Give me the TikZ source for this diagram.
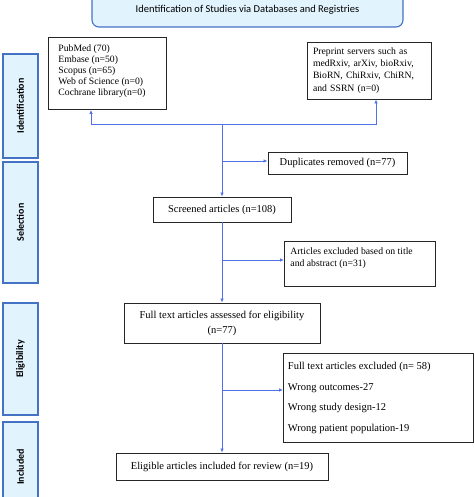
\documentclass[tikz,border=0pt]{standalone}
\usepackage{fontspec}
\setmainfont{Liberation Serif}
\newfontfamily\labelfont{Carlito}
\usetikzlibrary{arrows.meta}
\definecolor{flow}{HTML}{4F72E8}
\definecolor{phaseborder}{HTML}{4472C4}
\definecolor{phasefill}{HTML}{E1F3FC}
\tikzset{
  box/.style={draw=black!85, line width=0.9pt, inner sep=0pt, font=\fontsize{10.5}{13}\selectfont},
  smallbox/.style={box, font=\fontsize{9.7}{11}\selectfont},
  phase/.style={draw=phaseborder, fill=phasefill, line width=1.1pt, minimum width=35pt, inner sep=0pt},
  phasetext/.style={rotate=90, font=\labelfont\bfseries\fontsize{10}{12}\selectfont},
  flowline/.style={draw=flow, line width=1pt},
  arr/.style={flowline, -{Latex[length=4pt,width=3.5pt]}},
}
\begin{document}
\begin{tikzpicture}[x=1pt,y=-1pt]
\useasboundingbox (0,0) rectangle (474,497);
% banner
\node[draw=phaseborder, fill=phasefill, line width=1.1pt, rounded corners=7pt, minimum width=311pt, minimum height=35pt, font=\labelfont\fontsize{10.5}{12}\selectfont] (banner) at (247.5,9.5) {\raisebox{-4pt}{Identification of Studies via Databases and Registries}};
% phase boxes
\node[phase, minimum height=104pt] (pid) at (20.5,106) {};
\node[phasetext] at (pid.center) {Identification};
\node[phase, minimum height=121pt] (psel) at (20.5,222.5) {};
\node[phasetext] at (psel.center) {Selection};
\node[phase, minimum height=112pt] (pel) at (20.5,359) {};
\node[phasetext] at (pel.center) {Eligibility};
\node[phase, minimum height=90pt] (pinc) at (20.5,467) {};
\node[phasetext] at (pinc.center) {Included};
% sources
\node[smallbox, minimum width=118pt, minimum height=72pt, anchor=north west, align=left] (pubmed) at (48,37) {\parbox[t][72pt][t]{110pt}{\vspace{6pt}\hspace*{6pt}\begin{tabular}{@{}l@{}}PubMed (70)\\Embase (n=50)\\Scopus (n=65)\\Web of Science (n=0)\\Cochrane library(n=0)\end{tabular}}};
\node[smallbox, minimum width=124pt, minimum height=57pt, align=left, text width=112pt, font=\fontsize{9.7}{12.3}\selectfont] (pre) at (369,70.5) {Preprint servers such as\\medRxiv, arXiv, bioRxiv,\\BioRN, ChiRxiv, ChiRN,\\and SSRN (n=0)};
% main column
\node[box, minimum width=138pt, minimum height=25pt] (scr) at (222,209.5) {Screened articles (n=108)};
\node[box, minimum width=196pt, minimum height=40pt, align=center] (full) at (222,323) {Full text articles assessed for eligibility\\[2pt](n=77)};
\node[box, minimum width=212pt, minimum height=27pt] (elig) at (222,466.5) {Eligible articles included for review (n=19)};
% side boxes
\node[box, minimum width=139pt, minimum height=22pt] (dup) at (337.5,163) {Duplicates removed (n=77)};
\node[box, minimum width=151pt, minimum height=45pt, anchor=north west, align=left, font=\fontsize{9.7}{12}\selectfont] (exc1) at (284,241) {\parbox[t][45pt][t]{145pt}{\vspace{6pt}\hspace*{3pt}Articles excluded based on title\\\hspace*{3pt}and abstract (n=31)}};
\node[box, minimum width=190pt, minimum height=89pt, anchor=north west, align=left] (exc2) at (283,353) {\parbox[t][89pt][t]{185pt}{\vspace{9pt}\hspace*{2pt}Full text articles excluded (n= 58)\\[7.5pt]\hspace*{2pt}Wrong outcomes-27\\[7.5pt]\hspace*{2pt}Wrong study design-12\\[7.5pt]\hspace*{2pt}Wrong patient population-19}};
% connectors
\coordinate (hub) at (222,125);
\coordinate (hl) at (91,125);
\coordinate (hr) at (376,125);
\draw[flowline] (hl) -- (hr);
\draw[arr] (hl) -- (hl |- pubmed.south);
\draw[arr] (hr) -- (hr |- pre.south);
\draw[arr] (hub) -- (scr.north);
\coordinate (j1) at (222,161);
\draw[arr] (j1) -- (j1 -| dup.west);
\draw[arr] (scr.south) -- (full.north);
\coordinate (j2) at (222,260);
\draw[arr] (j2) -- (j2 -| exc1.west);
\draw[arr] (full.south) -- (elig.north);
\coordinate (j3) at (222,390);
\draw[arr] (j3) -- (j3 -| exc2.west);
\end{tikzpicture}
\end{document}
